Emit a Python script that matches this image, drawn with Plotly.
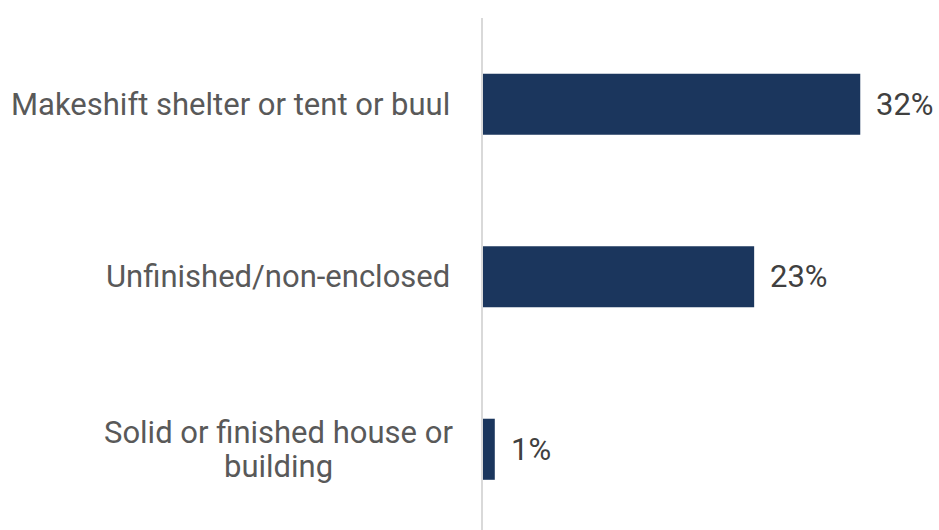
import plotly.graph_objects as go

# Shelter types (bottom to top) and share of households
categories = ["Solid or finished house or<br>building", "Unfinished/non-enclosed", "Makeshift shelter or tent or buul"]
values = [1, 23, 32]
value_labels = ["1%", "23%", "32%"]

BAR_COLOR = "#1b365d"
FONT = "Roboto"
LINE_GAP = 34  # px between lines of a wrapped category label

fig = go.Figure(
    go.Bar(
        x=values,
        y=list(range(len(categories))),
        orientation="h",
        width=0.354,
        marker=dict(color=BAR_COLOR, line=dict(width=0)),
        hoverinfo="skip",
    )
)

# Category labels, each line centred in a block to the left of the axis
for i, cat in enumerate(categories):
    lines = cat.split("<br>")
    n = len(lines)
    for j, line in enumerate(lines):
        fig.add_annotation(
            x=0, xref="paper", y=i, yref="y",
            text=line, showarrow=False,
            xanchor="right" if n == 1 else "center",
            yanchor="middle", align="center",
            xshift=-31 if n == 1 else -31 - 174,
            yshift=((n - 1) / 2 - j) * LINE_GAP,
            font=dict(family=FONT, size=31, color="#595959"),
        )

# Value labels just past the end of each bar
for i, (v, lab) in enumerate(zip(values, value_labels)):
    fig.add_annotation(
        x=v, xref="x", y=i, yref="y",
        text=lab, showarrow=False,
        xanchor="left", yanchor="middle", xshift=14,
        font=dict(family=FONT, size=31, color="#404040"),
    )

fig.update_layout(
    width=939, height=530,
    margin=dict(l=483, r=8, t=18, b=0),
    paper_bgcolor="white", plot_bgcolor="white",
    showlegend=False,
    xaxis=dict(range=[0, 38], visible=False, showgrid=False, zeroline=False),
    yaxis=dict(
        range=[-0.468, 2.5], showticklabels=False, showgrid=False, zeroline=False,
        showline=True, linecolor="#d9d9d9", linewidth=2, ticks="",
    ),
)

fig.write_html("out.html")
